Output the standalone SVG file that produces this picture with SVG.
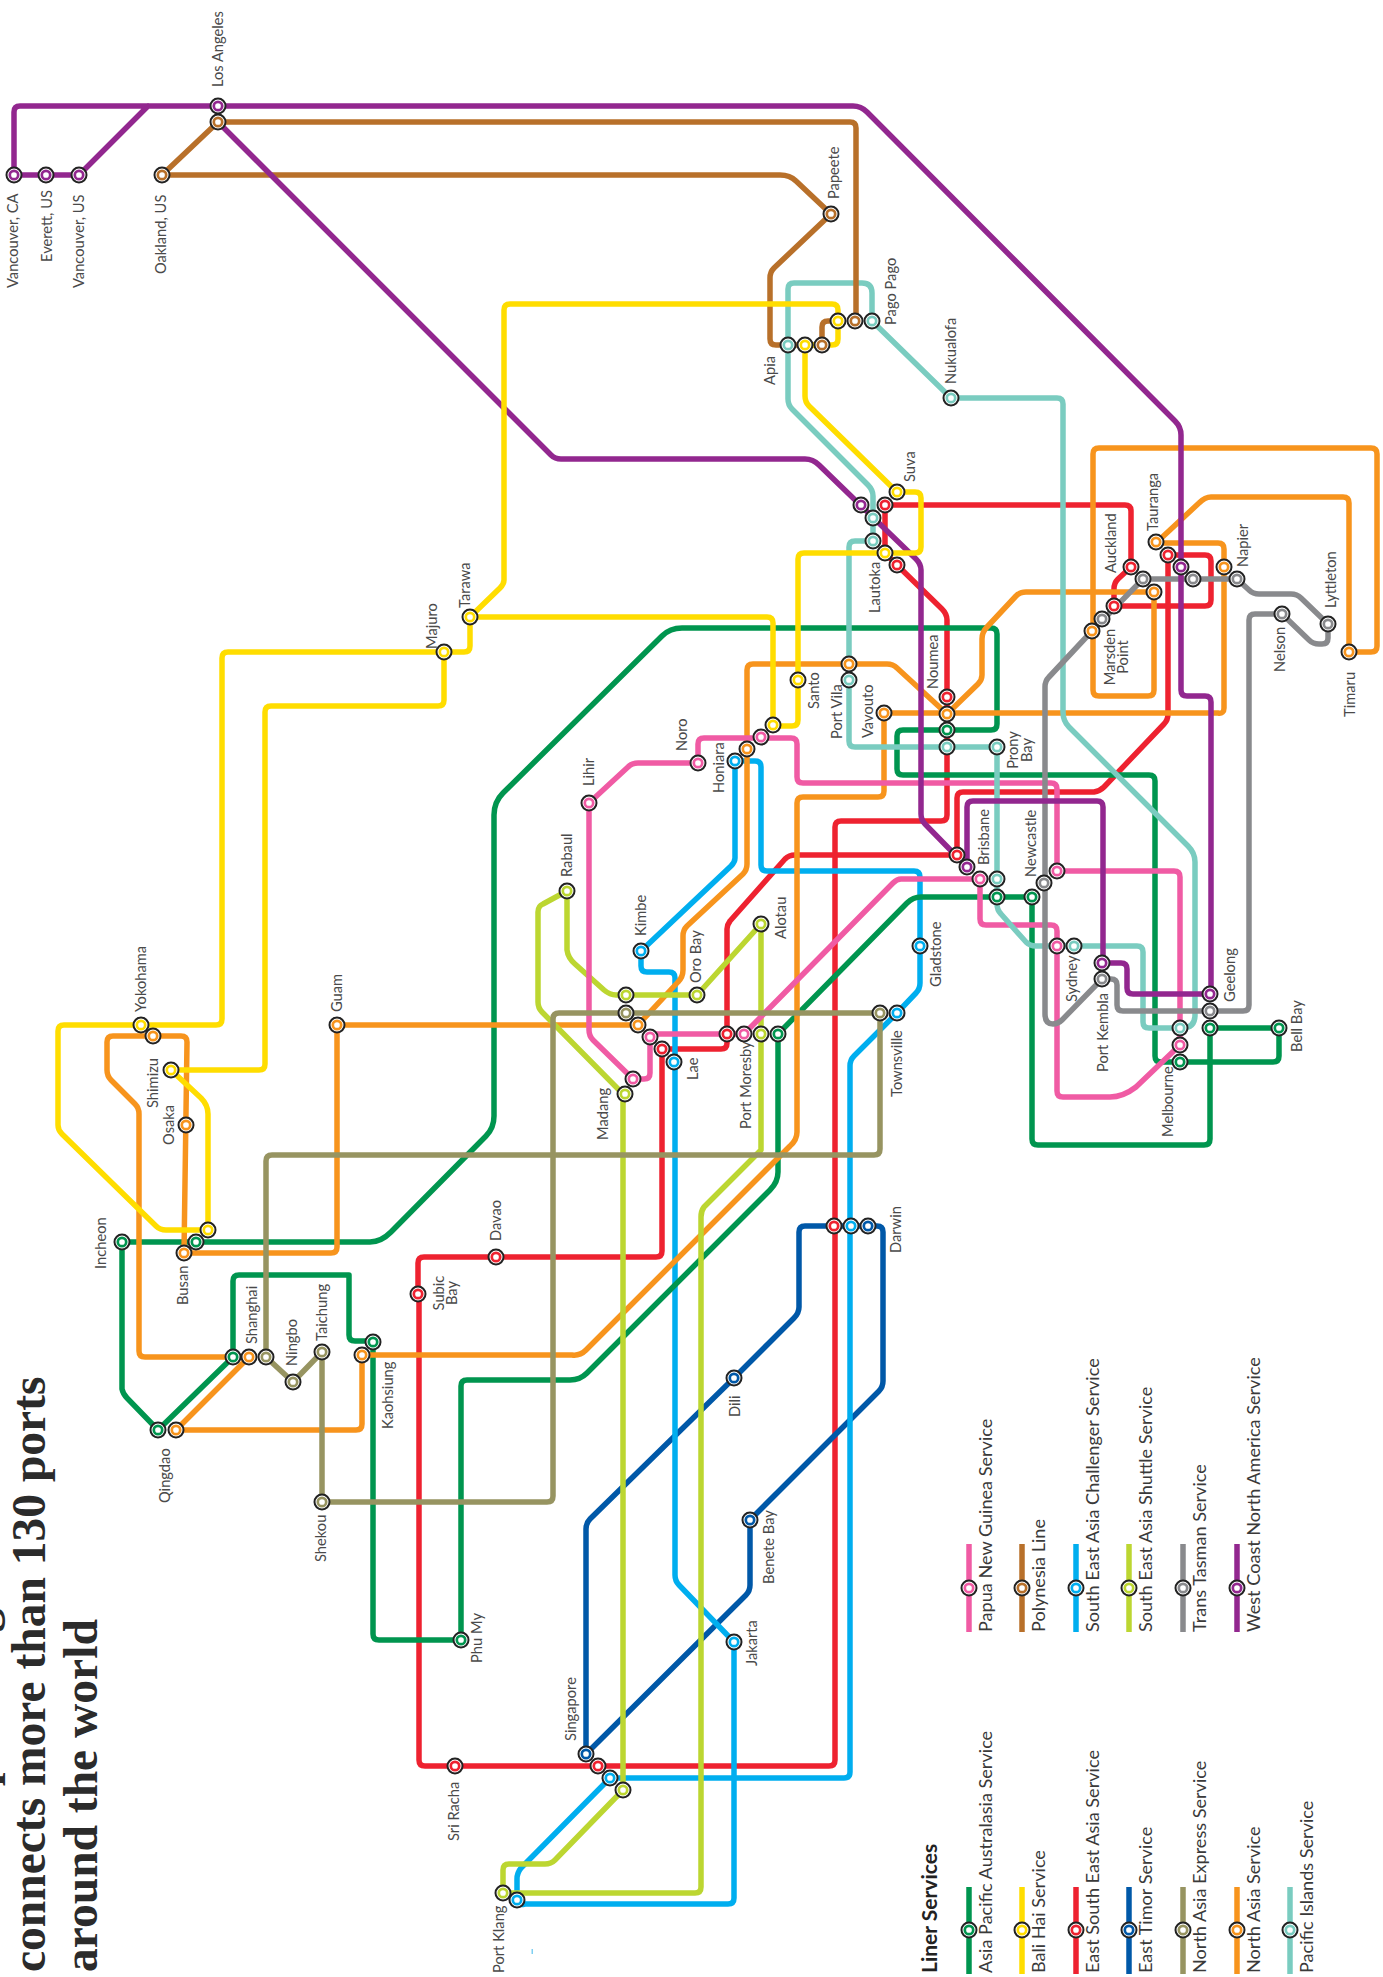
<svg xmlns="http://www.w3.org/2000/svg" width="1383" height="1977" viewBox="0 0 1383 1977">
<style>
.l{fill:none;stroke-width:5.5;stroke-linejoin:round;stroke-linecap:round}
.lg{fill:none;stroke-width:5.5}
.o{fill:#fff;stroke:#222;stroke-width:2}
.i{fill:#fff;stroke-width:2.7}
.gn{stroke:#00954f}.ye{stroke:#ffdd00}.re{stroke:#ee2230}.db{stroke:#0058a8}.kh{stroke:#979461}.or{stroke:#f7941d}.te{stroke:#7accc0}.pi{stroke:#f05ba4}.br{stroke:#b8702a}.lb{stroke:#00aeef}.li{stroke:#bcd631}.gr{stroke:#898a8d}.pu{stroke:#92278f}
text{font-family:"Lato","Open Sans","Liberation Sans",sans-serif;fill:#4a4a4a}
.t{font-size:14.7px}
.m{text-anchor:middle}
.k{font-size:18.1px;fill:#3a3a3a}
.h{font-size:21px;font-weight:700;fill:#222}
.title{font-family:"Liberation Serif",serif;font-weight:700;font-size:47.5px;fill:#2b2b2b}
</style>
<rect width="1383" height="1977" fill="#fff"/>
<g id="title">
<text class="title" transform="translate(-5,1632) rotate(-90)">g</text>
<text class="title" transform="translate(-5,1786) rotate(-90)">p</text>
<text class="title" transform="translate(45,1972) rotate(-90)">connects more than 130 ports</text>
<text class="title" transform="translate(97,1972) rotate(-90)">around the world</text>
</g>
<g id="connectors">
<path id="east-south-east-asia" class="l re" d="M418 1294V1263Q418 1257 424 1257H656Q662 1257 662 1251V1049H721Q727 1049 727 1043V929Q727 925 730 921L785 859Q789 855 795 855H957M957 855V798Q957 792 963 792H1094Q1100 791 1104 787L1164 724Q1168 720 1168 714V561Q1168 555 1174 555H1205Q1211 555 1211 561V600Q1211 606 1205 606H1114V589Q1114 583 1118 579L1131 567V511Q1131 505 1125 505H885V553L897 565L942 609Q947 614 947 620V815Q947 821 941 821H841Q835 821 835 827V1760Q835 1766 829 1766H425Q419 1766 419 1760V1294"/>
<path id="east-timor" class="l db" d="M586 1754V1529Q586 1523 590 1519L734 1378L794 1318Q799 1313 799 1307V1232Q799 1226 805 1226H877Q883 1226 883 1232V1381Q883 1387 879 1391L750 1520V1585Q750 1591 746 1595L586 1754"/>
<path id="south-east-asia-challenger" class="l lb" d="M735 761V858Q735 862 731 866L641 951V966Q641 972 647 972H669Q675 972 675 978V1575Q675 1581 679 1585L734 1642V1898Q734 1904 728 1904H525Q517 1906 517 1900V1879Q517 1873 521 1868L610 1778H844Q850 1778 850 1772V1066Q850 1060 854 1056L897 1013L916 993Q920 989 920 983V877Q920 871 914 871H767Q761 871 761 865V767Q761 761 755 761H735"/>
<path id="asia-pacific-australasia" class="l gn" d="M122 1242V1389Q123 1394 127 1398L158 1430L233 1357V1281Q233 1275 239 1275H349V1335Q349 1341 355 1341H373V1634Q373 1640 379 1640H461V1386Q461 1380 467 1380H570Q580 1380 587 1373L770 1190Q778 1182 778 1172V1034L907 903Q913 897 921 897H1032V1139Q1032 1145 1038 1145H1204Q1210 1145 1210 1139V1028H1279V1056Q1279 1062 1273 1062H1161Q1155 1062 1155 1056V781Q1155 775 1149 775H903Q897 775 897 769V736Q897 730 903 730H991Q997 730 997 724V634Q997 628 991 628H682Q670 628 662 636L503 793Q494 802 494 815V1116Q494 1128 486 1136L391 1232Q381 1242 370 1242H122"/>
<path id="north-asia" class="l or" d="M184 1253H331Q337 1253 337 1247V1025H638M153 1036H113Q107 1036 107 1042V1070Q107 1076 111 1080L135 1104Q139 1108 139 1114V1351Q139 1357 145 1357H249L176 1430H356Q362 1430 362 1424V1355H572Q580 1356 586 1350L790 1146Q797 1140 797 1132V803Q797 797 803 797H878Q884 797 884 791V713H1218Q1224 714 1224 708V549Q1224 543 1218 543H1156L1199 503Q1205 497 1211 497H1343Q1349 497 1349 503V652H1371Q1377 652 1377 646V454Q1377 448 1371 448H1099Q1093 448 1093 454V690Q1093 696 1099 696H1148Q1154 696 1154 690V592H1026Q1020 592 1016 596L987 627Q982 632 982 639V675Q982 680 978 684L947 714L897 668Q893 664 887 664H753Q747 664 747 670V864Q747 870 743 874L687 926Q683 930 683 936V970Q683 977 678 982L638 1025M153 1036H181Q187 1036 187 1042L184 1253"/>
<path id="south-east-asia-shuttle" class="l li" d="M567 891V950Q568 958 575 964L604 990Q610 995 616 995H697L761 924V1150L704 1207Q701 1211 701 1217V1887Q701 1893 695 1893H503V1870Q503 1864 509 1864H545Q551 1864 555 1860L623 1790V1094L542 1012Q538 1008 538 1002V912Q538 906 543 904L567 891"/>
<path id="papua-new-guinea" class="l pi" d="M633 1079L593 1040Q589 1036 589 1030V803L628 767Q632 763 638 763H698V744Q698 738 704 738H791Q797 738 797 744V777Q797 783 803 783H1051Q1057 783 1057 789V871H1174Q1180 871 1180 877V1045L1136 1087Q1123 1097 1110 1097H1063Q1057 1097 1057 1091V931Q1057 925 1051 925H986Q980 925 980 919V879H901Q897 879 893 883L744 1034H650V1073Q650 1079 644 1079H633"/>
<path id="north-asia-express" class="l kh" d="M266 1357V1161Q266 1155 272 1155H874Q880 1155 880 1149V1013H559Q553 1013 553 1019V1496Q553 1502 547 1502H322V1352L293 1382L266 1357"/>
<path id="pacific-islands" class="l te" d="M788 345V289Q788 283 794 283H862Q872 283 872 293V321L951 398H1057Q1063 398 1063 404V712Q1063 721 1069 727L1188 846Q1195 853 1195 862V1015Q1195 1028 1182 1028H1149Q1143 1028 1143 1022V952Q1143 946 1137 946H1036Q1030 946 1026 942L1001 914Q997 910 997 904V747H855Q849 747 849 741V547Q849 541 855 541H873V496Q873 490 868 485L792 409Q788 405 788 399V345"/>
<path id="trans-tasman" class="l gr" d="M1210 1011H1243Q1249 1011 1249 1005V620Q1249 614 1255 614H1282L1309 640Q1313 644 1319 644H1322Q1328 644 1328 638V624L1301 598Q1297 594 1291 594H1259Q1253 594 1249 590L1237 579H1143L1092 631L1049 677Q1045 681 1045 687V1014Q1045 1024 1053 1024Q1058 1024 1062 1020L1102 979H1111Q1117 979 1117 985V1005Q1117 1011 1123 1011H1210"/>
<path id="polynesia" class="l br" d="M162 175H780Q790 175 796 181L831 214L774 268Q770 272 770 278V339Q770 345 776 345H822V327Q822 321 828 321H838M162 175L218 122H850Q856 122 856 128V321"/>
<path id="west-coast-north-america" class="l pu" d="M14 175V112Q14 106 20 106H853Q861 106 867 112L1175 421Q1181 427 1181 435V690Q1181 696 1187 696H1205Q1211 696 1211 702V994M14 175H79L148 106M218 122L551 455Q555 459 561 459H805Q813 459 819 465L916 559Q921 564 921 570V814Q921 820 925 824L967 867V807Q967 801 973 801H1097Q1103 801 1103 807V963H1121Q1127 963 1127 969V988Q1127 994 1133 994H1210"/>
<path id="bali-hai" class="l ye" d="M805 345H832Q838 345 838 339V310Q838 304 832 304H510Q504 304 504 310V580Q504 584 500 588L470 617H767Q773 617 773 623V725M470 617V646Q470 652 464 652H228Q222 652 222 658V1019Q222 1025 216 1025H64Q58 1025 58 1031V1125Q58 1130 62 1134L156 1226Q160 1230 166 1230H208M171 1070L201 1098Q208 1105 208 1114V1230M171 1070H259Q265 1070 265 1064V712Q265 706 271 706H438Q444 706 444 700V652M805 345V396Q805 402 809 406L897 492H915Q921 492 921 498V547Q921 553 915 553H804Q798 553 798 559V720Q798 726 792 726H773"/>
</g>
<g id="nodes">
<g id="vancouver-ca"><circle class="o" cx="14" cy="175" r="7.5"/><circle class="i pu" cx="14" cy="175" r="4.2"/><text class="t" transform="translate(18,288) rotate(-90)">Vancouver, CA</text></g>
<g id="everett"><circle class="o" cx="46" cy="175" r="7.5"/><circle class="i pu" cx="46" cy="175" r="4.2"/><text class="t" transform="translate(52,262) rotate(-90)">Everett, US</text></g>
<g id="vancouver-us"><circle class="o" cx="79" cy="175" r="7.5"/><circle class="i pu" cx="79" cy="175" r="4.2"/><text class="t" transform="translate(84,288) rotate(-90)">Vancouver, US</text></g>
<g id="oakland"><circle class="o" cx="162" cy="175" r="7.5"/><circle class="i br" cx="162" cy="175" r="4.2"/><text class="t" transform="translate(166,274) rotate(-90)">Oakland, US</text></g>
<g id="los-angeles-wc"><circle class="o" cx="218" cy="106" r="7.5"/><circle class="i pu" cx="218" cy="106" r="4.2"/><text class="t" transform="translate(223,87) rotate(-90)">Los Angeles</text></g>
<g id="los-angeles-pl"><circle class="o" cx="218" cy="122" r="7.5"/><circle class="i br" cx="218" cy="122" r="4.2"/></g>
<g id="papeete"><circle class="o" cx="831" cy="214" r="7.5"/><circle class="i br" cx="831" cy="214" r="4.2"/><text class="t" transform="translate(839,199) rotate(-90)">Papeete</text></g>
<g id="apia-pi"><circle class="o" cx="788" cy="345" r="7.5"/><circle class="i te" cx="788" cy="345" r="4.2"/><text class="t" transform="translate(775,385) rotate(-90)">Apia</text></g>
<g id="apia-bh"><circle class="o" cx="805" cy="345" r="7.5"/><circle class="i ye" cx="805" cy="345" r="4.2"/></g>
<g id="apia-pl"><circle class="o" cx="822" cy="345" r="7.5"/><circle class="i br" cx="822" cy="345" r="4.2"/></g>
<g id="pago-bh"><circle class="o" cx="838" cy="321" r="7.5"/><circle class="i ye" cx="838" cy="321" r="4.2"/></g>
<g id="pago-pl"><circle class="o" cx="855" cy="321" r="7.5"/><circle class="i br" cx="855" cy="321" r="4.2"/></g>
<g id="pago-pi"><circle class="o" cx="872" cy="321" r="7.5"/><circle class="i te" cx="872" cy="321" r="4.2"/><text class="t" transform="translate(896,325) rotate(-90)">Pago Pago</text></g>
<g id="nukualofa"><circle class="o" cx="951" cy="398" r="7.5"/><circle class="i te" cx="951" cy="398" r="4.2"/><text class="t" transform="translate(956,384) rotate(-90)">Nukualofa</text></g>
<g id="suva-bh"><circle class="o" cx="897" cy="492" r="7.5"/><circle class="i ye" cx="897" cy="492" r="4.2"/><text class="t" transform="translate(915,482) rotate(-90)">Suva</text></g>
<g id="suva-re"><circle class="o" cx="885" cy="505" r="7.5"/><circle class="i re" cx="885" cy="505" r="4.2"/></g>
<g id="suva-wc"><circle class="o" cx="861" cy="505" r="7.5"/><circle class="i pu" cx="861" cy="505" r="4.2"/></g>
<g id="suva-pi"><circle class="o" cx="873" cy="518" r="7.5"/><circle class="i te" cx="873" cy="518" r="4.2"/></g>
<g id="lautoka-pi"><circle class="o" cx="873" cy="541" r="7.5"/><circle class="i te" cx="873" cy="541" r="4.2"/></g>
<g id="lautoka-bh"><circle class="o" cx="885" cy="553" r="7.5"/><circle class="i ye" cx="885" cy="553" r="4.2"/><text class="t" transform="translate(880,613) rotate(-90)">Lautoka</text></g>
<g id="lautoka-re"><circle class="o" cx="897" cy="565" r="7.5"/><circle class="i re" cx="897" cy="565" r="4.2"/></g>
<g id="tauranga-or"><circle class="o" cx="1156" cy="542" r="7.5"/><circle class="i or" cx="1156" cy="542" r="4.2"/><text class="t" transform="translate(1158,531) rotate(-90)">Tauranga</text></g>
<g id="tauranga-re"><circle class="o" cx="1168" cy="555" r="7.5"/><circle class="i re" cx="1168" cy="555" r="4.2"/></g>
<g id="tauranga-wc"><circle class="o" cx="1181" cy="567" r="7.5"/><circle class="i pu" cx="1181" cy="567" r="4.2"/></g>
<g id="tauranga-tt"><circle class="o" cx="1193" cy="579" r="7.5"/><circle class="i gr" cx="1193" cy="579" r="4.2"/></g>
<g id="auckland-re"><circle class="o" cx="1131" cy="567" r="7.5"/><circle class="i re" cx="1131" cy="567" r="4.2"/><text class="t" transform="translate(1116,573) rotate(-90)">Auckland</text></g>
<g id="auckland-tt"><circle class="o" cx="1143" cy="579" r="7.5"/><circle class="i gr" cx="1143" cy="579" r="4.2"/></g>
<g id="auckland-or"><circle class="o" cx="1154" cy="592" r="7.5"/><circle class="i or" cx="1154" cy="592" r="4.2"/></g>
<g id="marsden-re"><circle class="o" cx="1114" cy="606" r="7.5"/><circle class="i re" cx="1114" cy="606" r="4.2"/></g>
<g id="marsden-tt"><circle class="o" cx="1102" cy="619" r="7.5"/><circle class="i gr" cx="1102" cy="619" r="4.2"/></g>
<g id="marsden-or"><circle class="o" cx="1092" cy="631" r="7.5"/><circle class="i or" cx="1092" cy="631" r="4.2"/><text class="t m" transform="translate(1115,657) rotate(-90)">Marsden</text><text class="t m" transform="translate(1128,657) rotate(-90)">Point</text></g>
<g id="napier-or"><circle class="o" cx="1224" cy="567" r="7.5"/><circle class="i or" cx="1224" cy="567" r="4.2"/></g>
<g id="napier-tt"><circle class="o" cx="1237" cy="579" r="7.5"/><circle class="i gr" cx="1237" cy="579" r="4.2"/><text class="t" transform="translate(1248,567) rotate(-90)">Napier</text></g>
<g id="nelson"><circle class="o" cx="1282" cy="614" r="7.5"/><circle class="i gr" cx="1282" cy="614" r="4.2"/><text class="t" transform="translate(1285,672) rotate(-90)">Nelson</text></g>
<g id="lyttleton"><circle class="o" cx="1328" cy="624" r="7.5"/><circle class="i gr" cx="1328" cy="624" r="4.2"/><text class="t" transform="translate(1336,608) rotate(-90)">Lyttleton</text></g>
<g id="timaru"><circle class="o" cx="1349" cy="652" r="7.5"/><circle class="i or" cx="1349" cy="652" r="4.2"/><text class="t" transform="translate(1355,717) rotate(-90)">Timaru</text></g>
<g id="noumea-re"><circle class="o" cx="947" cy="697" r="7.5"/><circle class="i re" cx="947" cy="697" r="4.2"/><text class="t" transform="translate(938,689) rotate(-90)">Noumea</text></g>
<g id="noumea-or"><circle class="o" cx="947" cy="714" r="7.5"/><circle class="i or" cx="947" cy="714" r="4.2"/></g>
<g id="noumea-gn"><circle class="o" cx="947" cy="730" r="7.5"/><circle class="i gn" cx="947" cy="730" r="4.2"/></g>
<g id="noumea-pi"><circle class="o" cx="947" cy="747" r="7.5"/><circle class="i te" cx="947" cy="747" r="4.2"/></g>
<g id="prony-bay"><circle class="o" cx="997" cy="747" r="7.5"/><circle class="i te" cx="997" cy="747" r="4.2"/><text class="t m" transform="translate(1018,750) rotate(-90)">Prony</text><text class="t m" transform="translate(1032,750) rotate(-90)">Bay</text></g>
<g id="santo"><circle class="o" cx="798" cy="680" r="7.5"/><circle class="i ye" cx="798" cy="680" r="4.2"/><text class="t" transform="translate(819,709) rotate(-90)">Santo</text></g>
<g id="port-vila-or"><circle class="o" cx="849" cy="664" r="7.5"/><circle class="i or" cx="849" cy="664" r="4.2"/></g>
<g id="port-vila-pi"><circle class="o" cx="849" cy="680" r="7.5"/><circle class="i te" cx="849" cy="680" r="4.2"/><text class="t" transform="translate(842,739) rotate(-90)">Port Vila</text></g>
<g id="vavouto"><circle class="o" cx="884" cy="713" r="7.5"/><circle class="i or" cx="884" cy="713" r="4.2"/><text class="t" transform="translate(873,738) rotate(-90)">Vavouto</text></g>
<g id="noro-bh"><circle class="o" cx="773" cy="725" r="7.5"/><circle class="i ye" cx="773" cy="725" r="4.2"/></g>
<g id="honiara-pn"><circle class="o" cx="761" cy="737" r="7.5"/><circle class="i pi" cx="761" cy="737" r="4.2"/></g>
<g id="honiara-or"><circle class="o" cx="747" cy="749" r="7.5"/><circle class="i or" cx="747" cy="749" r="4.2"/></g>
<g id="honiara-lb"><circle class="o" cx="735" cy="761" r="7.5"/><circle class="i lb" cx="735" cy="761" r="4.2"/><text class="t" transform="translate(724,793) rotate(-90)">Honiara</text></g>
<g id="noro"><circle class="o" cx="698" cy="763" r="7.5"/><circle class="i pi" cx="698" cy="763" r="4.2"/><text class="t" transform="translate(687,751) rotate(-90)">Noro</text></g>
<g id="lihir"><circle class="o" cx="589" cy="803" r="7.5"/><circle class="i pi" cx="589" cy="803" r="4.2"/><text class="t" transform="translate(594,786) rotate(-90)">Lihir</text></g>
<g id="rabaul"><circle class="o" cx="567" cy="891" r="7.5"/><circle class="i li" cx="567" cy="891" r="4.2"/><text class="t" transform="translate(572,877) rotate(-90)">Rabaul</text></g>
<g id="kimbe"><circle class="o" cx="641" cy="951" r="7.5"/><circle class="i lb" cx="641" cy="951" r="4.2"/><text class="t" transform="translate(646,936) rotate(-90)">Kimbe</text></g>
<g id="oro-bay"><circle class="o" cx="697" cy="995" r="7.5"/><circle class="i li" cx="697" cy="995" r="4.2"/><text class="t" transform="translate(701,983) rotate(-90)">Oro Bay</text></g>
<g id="alotau"><circle class="o" cx="761" cy="924" r="7.5"/><circle class="i li" cx="761" cy="924" r="4.2"/><text class="t" transform="translate(786,939) rotate(-90)">Alotau</text></g>
<g id="lae-li"><circle class="o" cx="626" cy="995" r="7.5"/><circle class="i li" cx="626" cy="995" r="4.2"/></g>
<g id="lae-kh"><circle class="o" cx="626" cy="1013" r="7.5"/><circle class="i kh" cx="626" cy="1013" r="4.2"/></g>
<g id="lae-or"><circle class="o" cx="638" cy="1025" r="7.5"/><circle class="i or" cx="638" cy="1025" r="4.2"/></g>
<g id="lae-pn"><circle class="o" cx="650" cy="1037" r="7.5"/><circle class="i pi" cx="650" cy="1037" r="4.2"/></g>
<g id="lae-re"><circle class="o" cx="662" cy="1049" r="7.5"/><circle class="i re" cx="662" cy="1049" r="4.2"/></g>
<g id="lae-lb"><circle class="o" cx="674" cy="1062" r="7.5"/><circle class="i lb" cx="674" cy="1062" r="4.2"/><text class="t" transform="translate(698,1080) rotate(-90)">Lae</text></g>
<g id="madang-pn"><circle class="o" cx="633" cy="1079" r="7.5"/><circle class="i pi" cx="633" cy="1079" r="4.2"/></g>
<g id="madang-li"><circle class="o" cx="625" cy="1094" r="7.5"/><circle class="i li" cx="625" cy="1094" r="4.2"/><text class="t" transform="translate(608,1140) rotate(-90)">Madang</text></g>
<g id="moresby-re"><circle class="o" cx="727" cy="1034" r="7.5"/><circle class="i re" cx="727" cy="1034" r="4.2"/></g>
<g id="moresby-pn"><circle class="o" cx="744" cy="1034" r="7.5"/><circle class="i pi" cx="744" cy="1034" r="4.2"/><text class="t" transform="translate(751,1129) rotate(-90)">Port Moresby</text></g>
<g id="moresby-li"><circle class="o" cx="761" cy="1034" r="7.5"/><circle class="i li" cx="761" cy="1034" r="4.2"/></g>
<g id="moresby-gn"><circle class="o" cx="778" cy="1034" r="7.5"/><circle class="i gn" cx="778" cy="1034" r="4.2"/></g>
<g id="townsville-kh"><circle class="o" cx="880" cy="1013" r="7.5"/><circle class="i kh" cx="880" cy="1013" r="4.2"/></g>
<g id="townsville-lb"><circle class="o" cx="897" cy="1013" r="7.5"/><circle class="i lb" cx="897" cy="1013" r="4.2"/><text class="t" transform="translate(902,1097) rotate(-90)">Townsville</text></g>
<g id="gladstone"><circle class="o" cx="920" cy="946" r="7.5"/><circle class="i lb" cx="920" cy="946" r="4.2"/><text class="t" transform="translate(941,987) rotate(-90)">Gladstone</text></g>
<g id="brisbane-re"><circle class="o" cx="957" cy="855" r="7.5"/><circle class="i re" cx="957" cy="855" r="4.2"/></g>
<g id="brisbane-wc"><circle class="o" cx="967" cy="867" r="7.5"/><circle class="i pu" cx="967" cy="867" r="4.2"/><text class="t" transform="translate(989,865) rotate(-90)">Brisbane</text></g>
<g id="brisbane-pn"><circle class="o" cx="980" cy="879" r="7.5"/><circle class="i pi" cx="980" cy="879" r="4.2"/></g>
<g id="brisbane-pi"><circle class="o" cx="997" cy="879" r="7.5"/><circle class="i te" cx="997" cy="879" r="4.2"/></g>
<g id="brisbane-gn"><circle class="o" cx="997" cy="897" r="7.5"/><circle class="i gn" cx="997" cy="897" r="4.2"/></g>
<g id="newcastle-gn"><circle class="o" cx="1032" cy="897" r="7.5"/><circle class="i gn" cx="1032" cy="897" r="4.2"/></g>
<g id="newcastle-tt"><circle class="o" cx="1044" cy="883" r="7.5"/><circle class="i gr" cx="1044" cy="883" r="4.2"/><text class="t" transform="translate(1036,877) rotate(-90)">Newcastle</text></g>
<g id="newcastle-pn"><circle class="o" cx="1057" cy="871" r="7.5"/><circle class="i pi" cx="1057" cy="871" r="4.2"/></g>
<g id="sydney-pn"><circle class="o" cx="1057" cy="946" r="7.5"/><circle class="i pi" cx="1057" cy="946" r="4.2"/></g>
<g id="sydney-pi"><circle class="o" cx="1074" cy="946" r="7.5"/><circle class="i te" cx="1074" cy="946" r="4.2"/><text class="t" transform="translate(1077,1002) rotate(-90)">Sydney</text></g>
<g id="kembla-wc"><circle class="o" cx="1102" cy="963" r="7.5"/><circle class="i pu" cx="1102" cy="963" r="4.2"/></g>
<g id="kembla-tt"><circle class="o" cx="1102" cy="979" r="7.5"/><circle class="i gr" cx="1102" cy="979" r="4.2"/><text class="t" transform="translate(1108,1072) rotate(-90)">Port Kembla</text></g>
<g id="geelong-wc"><circle class="o" cx="1210" cy="994" r="7.5"/><circle class="i pu" cx="1210" cy="994" r="4.2"/><text class="t" transform="translate(1235,1002) rotate(-90)">Geelong</text></g>
<g id="geelong-tt"><circle class="o" cx="1210" cy="1011" r="7.5"/><circle class="i gr" cx="1210" cy="1011" r="4.2"/></g>
<g id="geelong-gn"><circle class="o" cx="1210" cy="1028" r="7.5"/><circle class="i gn" cx="1210" cy="1028" r="4.2"/></g>
<g id="melbourne-pi"><circle class="o" cx="1180" cy="1028" r="7.5"/><circle class="i te" cx="1180" cy="1028" r="4.2"/></g>
<g id="melbourne-pn"><circle class="o" cx="1180" cy="1045" r="7.5"/><circle class="i pi" cx="1180" cy="1045" r="4.2"/></g>
<g id="melbourne-gn"><circle class="o" cx="1180" cy="1062" r="7.5"/><circle class="i gn" cx="1180" cy="1062" r="4.2"/><text class="t" transform="translate(1173,1137) rotate(-90)">Melbourne</text></g>
<g id="bell-bay"><circle class="o" cx="1279" cy="1028" r="7.5"/><circle class="i gn" cx="1279" cy="1028" r="4.2"/><text class="t" transform="translate(1302,1052) rotate(-90)">Bell Bay</text></g>
<g id="tarawa"><circle class="o" cx="470" cy="617" r="7.5"/><circle class="i ye" cx="470" cy="617" r="4.2"/><text class="t" transform="translate(470,608) rotate(-90)">Tarawa</text></g>
<g id="majuro"><circle class="o" cx="444" cy="652" r="7.5"/><circle class="i ye" cx="444" cy="652" r="4.2"/><text class="t" transform="translate(437,649) rotate(-90)">Majuro</text></g>
<g id="yokohama-bh"><circle class="o" cx="141" cy="1025" r="7.5"/><circle class="i ye" cx="141" cy="1025" r="4.2"/><text class="t" transform="translate(146,1012) rotate(-90)">Yokohama</text></g>
<g id="yokohama-or"><circle class="o" cx="153" cy="1036" r="7.5"/><circle class="i or" cx="153" cy="1036" r="4.2"/></g>
<g id="shimizu"><circle class="o" cx="171" cy="1070" r="7.5"/><circle class="i ye" cx="171" cy="1070" r="4.2"/><text class="t" transform="translate(158,1108) rotate(-90)">Shimizu</text></g>
<g id="osaka"><circle class="o" cx="186" cy="1125" r="7.5"/><circle class="i or" cx="186" cy="1125" r="4.2"/><text class="t" transform="translate(174,1145) rotate(-90)">Osaka</text></g>
<g id="incheon"><circle class="o" cx="122" cy="1242" r="7.5"/><circle class="i gn" cx="122" cy="1242" r="4.2"/><text class="t" transform="translate(106,1269) rotate(-90)">Incheon</text></g>
<g id="busan-bh"><circle class="o" cx="208" cy="1230" r="7.5"/><circle class="i ye" cx="208" cy="1230" r="4.2"/></g>
<g id="busan-gn"><circle class="o" cx="196" cy="1242" r="7.5"/><circle class="i gn" cx="196" cy="1242" r="4.2"/></g>
<g id="busan-or"><circle class="o" cx="184" cy="1253" r="7.5"/><circle class="i or" cx="184" cy="1253" r="4.2"/><text class="t" transform="translate(188,1305) rotate(-90)">Busan</text></g>
<g id="guam"><circle class="o" cx="337" cy="1025" r="7.5"/><circle class="i or" cx="337" cy="1025" r="4.2"/><text class="t" transform="translate(342,1012) rotate(-90)">Guam</text></g>
<g id="shanghai-gn"><circle class="o" cx="233" cy="1357" r="7.5"/><circle class="i gn" cx="233" cy="1357" r="4.2"/></g>
<g id="shanghai-or"><circle class="o" cx="249" cy="1357" r="7.5"/><circle class="i or" cx="249" cy="1357" r="4.2"/><text class="t" transform="translate(257,1344) rotate(-90)">Shanghai</text></g>
<g id="shanghai-kh"><circle class="o" cx="266" cy="1357" r="7.5"/><circle class="i kh" cx="266" cy="1357" r="4.2"/></g>
<g id="ningbo"><circle class="o" cx="293" cy="1382" r="7.5"/><circle class="i kh" cx="293" cy="1382" r="4.2"/><text class="t" transform="translate(297,1366) rotate(-90)">Ningbo</text></g>
<g id="taichung"><circle class="o" cx="322" cy="1352" r="7.5"/><circle class="i kh" cx="322" cy="1352" r="4.2"/><text class="t" transform="translate(327,1341) rotate(-90)">Taichung</text></g>
<g id="shekou"><circle class="o" cx="322" cy="1502" r="7.5"/><circle class="i kh" cx="322" cy="1502" r="4.2"/><text class="t" transform="translate(326,1562) rotate(-90)">Shekou</text></g>
<g id="kaohsiung-gn"><circle class="o" cx="373" cy="1342" r="7.5"/><circle class="i gn" cx="373" cy="1342" r="4.2"/></g>
<g id="kaohsiung-or"><circle class="o" cx="362" cy="1355" r="7.5"/><circle class="i or" cx="362" cy="1355" r="4.2"/><text class="t" transform="translate(393,1429) rotate(-90)">Kaohsiung</text></g>
<g id="qingdao-gn"><circle class="o" cx="158" cy="1430" r="7.5"/><circle class="i gn" cx="158" cy="1430" r="4.2"/><text class="t" transform="translate(170,1503) rotate(-90)">Qingdao</text></g>
<g id="qingdao-or"><circle class="o" cx="176" cy="1430" r="7.5"/><circle class="i or" cx="176" cy="1430" r="4.2"/></g>
<g id="subic-bay"><circle class="o" cx="418" cy="1294" r="7.5"/><circle class="i re" cx="418" cy="1294" r="4.2"/><text class="t m" transform="translate(444,1293) rotate(-90)">Subic</text><text class="t m" transform="translate(457,1293) rotate(-90)">Bay</text></g>
<g id="davao"><circle class="o" cx="496" cy="1257" r="7.5"/><circle class="i re" cx="496" cy="1257" r="4.2"/><text class="t" transform="translate(501,1241) rotate(-90)">Davao</text></g>
<g id="darwin-re"><circle class="o" cx="834" cy="1226" r="7.5"/><circle class="i re" cx="834" cy="1226" r="4.2"/></g>
<g id="darwin-lb"><circle class="o" cx="851" cy="1226" r="7.5"/><circle class="i lb" cx="851" cy="1226" r="4.2"/></g>
<g id="darwin-db"><circle class="o" cx="868" cy="1226" r="7.5"/><circle class="i db" cx="868" cy="1226" r="4.2"/><text class="t" transform="translate(901,1253) rotate(-90)">Darwin</text></g>
<g id="dili"><circle class="o" cx="734" cy="1378" r="7.5"/><circle class="i db" cx="734" cy="1378" r="4.2"/><text class="t" transform="translate(740,1417) rotate(-90)">Dili</text></g>
<g id="benete-bay"><circle class="o" cx="750" cy="1520" r="7.5"/><circle class="i db" cx="750" cy="1520" r="4.2"/><text class="t" transform="translate(774,1584) rotate(-90)">Benete Bay</text></g>
<g id="jakarta"><circle class="o" cx="734" cy="1642" r="7.5"/><circle class="i lb" cx="734" cy="1642" r="4.2"/><text class="t" transform="translate(757,1666) rotate(-90)">Jakarta</text></g>
<g id="phu-my"><circle class="o" cx="461" cy="1640" r="7.5"/><circle class="i gn" cx="461" cy="1640" r="4.2"/><text class="t" transform="translate(482,1663) rotate(-90)">Phu My</text></g>
<g id="sri-racha"><circle class="o" cx="455" cy="1766" r="7.5"/><circle class="i re" cx="455" cy="1766" r="4.2"/><text class="t" transform="translate(459,1841) rotate(-90)">Sri Racha</text></g>
<g id="singapore-db"><circle class="o" cx="586" cy="1754" r="7.5"/><circle class="i db" cx="586" cy="1754" r="4.2"/><text class="t" transform="translate(576,1741) rotate(-90)">Singapore</text></g>
<g id="singapore-re"><circle class="o" cx="598" cy="1766" r="7.5"/><circle class="i re" cx="598" cy="1766" r="4.2"/></g>
<g id="singapore-lb"><circle class="o" cx="610" cy="1778" r="7.5"/><circle class="i lb" cx="610" cy="1778" r="4.2"/></g>
<g id="singapore-li"><circle class="o" cx="623" cy="1790" r="7.5"/><circle class="i li" cx="623" cy="1790" r="4.2"/></g>
<g id="port-klang-li"><circle class="o" cx="503" cy="1893" r="7.5"/><circle class="i li" cx="503" cy="1893" r="4.2"/></g>
<g id="port-klang-lb"><circle class="o" cx="517" cy="1900" r="7.5"/><circle class="i lb" cx="517" cy="1900" r="4.2"/><text class="t" transform="translate(504,1973) rotate(-90)">Port Klang</text></g>
</g>
<rect x="531.5" y="1949" width="1.5" height="5" fill="#7fd0f2"/>
<g id="legend">
<text class="h" transform="translate(937,1973) rotate(-90)">Liner Services</text>
<g id="lg-asia-pacific"><path class="lg gn" d="M969 1887V1974"/><circle class="o" cx="969" cy="1930" r="7.5"/><circle class="i gn" cx="969" cy="1930" r="4.2"/><text class="k" transform="translate(992,1973) rotate(-90)">Asia Pacific Australasia Service</text></g>
<g id="lg-bali-hai"><path class="lg ye" d="M1022 1887V1974"/><circle class="o" cx="1022" cy="1930" r="7.5"/><circle class="i ye" cx="1022" cy="1930" r="4.2"/><text class="k" transform="translate(1045,1973) rotate(-90)">Bali Hai Service</text></g>
<g id="lg-east-south"><path class="lg re" d="M1076 1887V1974"/><circle class="o" cx="1076" cy="1930" r="7.5"/><circle class="i re" cx="1076" cy="1930" r="4.2"/><text class="k" transform="translate(1099,1973) rotate(-90)">East South East Asia Service</text></g>
<g id="lg-east-timor"><path class="lg db" d="M1129 1887V1974"/><circle class="o" cx="1129" cy="1930" r="7.5"/><circle class="i db" cx="1129" cy="1930" r="4.2"/><text class="k" transform="translate(1152,1973) rotate(-90)">East Timor Service</text></g>
<g id="lg-na-express"><path class="lg kh" d="M1183 1887V1974"/><circle class="o" cx="1183" cy="1930" r="7.5"/><circle class="i kh" cx="1183" cy="1930" r="4.2"/><text class="k" transform="translate(1206,1973) rotate(-90)">North Asia Express Service</text></g>
<g id="lg-north-asia"><path class="lg or" d="M1237 1887V1974"/><circle class="o" cx="1237" cy="1930" r="7.5"/><circle class="i or" cx="1237" cy="1930" r="4.2"/><text class="k" transform="translate(1260,1973) rotate(-90)">North Asia Service</text></g>
<g id="lg-pacific"><path class="lg te" d="M1290 1887V1974"/><circle class="o" cx="1290" cy="1930" r="7.5"/><circle class="i te" cx="1290" cy="1930" r="4.2"/><text class="k" transform="translate(1313,1973) rotate(-90)">Pacific Islands Service</text></g>
<g id="lg-png"><path class="lg pi" d="M969 1544V1632"/><circle class="o" cx="969" cy="1588" r="7.5"/><circle class="i pi" cx="969" cy="1588" r="4.2"/><text class="k" transform="translate(992,1632) rotate(-90)">Papua New Guinea Service</text></g>
<g id="lg-polynesia"><path class="lg br" d="M1022 1544V1632"/><circle class="o" cx="1022" cy="1588" r="7.5"/><circle class="i br" cx="1022" cy="1588" r="4.2"/><text class="k" transform="translate(1045,1632) rotate(-90)">Polynesia Line</text></g>
<g id="lg-challenger"><path class="lg lb" d="M1076 1544V1632"/><circle class="o" cx="1076" cy="1588" r="7.5"/><circle class="i lb" cx="1076" cy="1588" r="4.2"/><text class="k" transform="translate(1099,1632) rotate(-90)">South East Asia Challenger Service</text></g>
<g id="lg-shuttle"><path class="lg li" d="M1129 1544V1632"/><circle class="o" cx="1129" cy="1588" r="7.5"/><circle class="i li" cx="1129" cy="1588" r="4.2"/><text class="k" transform="translate(1152,1632) rotate(-90)">South East Asia Shuttle Service</text></g>
<g id="lg-tasman"><path class="lg gr" d="M1183 1544V1632"/><circle class="o" cx="1183" cy="1588" r="7.5"/><circle class="i gr" cx="1183" cy="1588" r="4.2"/><text class="k" transform="translate(1206,1632) rotate(-90)">Trans Tasman Service</text></g>
<g id="lg-west-coast"><path class="lg pu" d="M1237 1544V1632"/><circle class="o" cx="1237" cy="1588" r="7.5"/><circle class="i pu" cx="1237" cy="1588" r="4.2"/><text class="k" transform="translate(1260,1632) rotate(-90)">West Coast North America Service</text></g>
</g>
</svg>
